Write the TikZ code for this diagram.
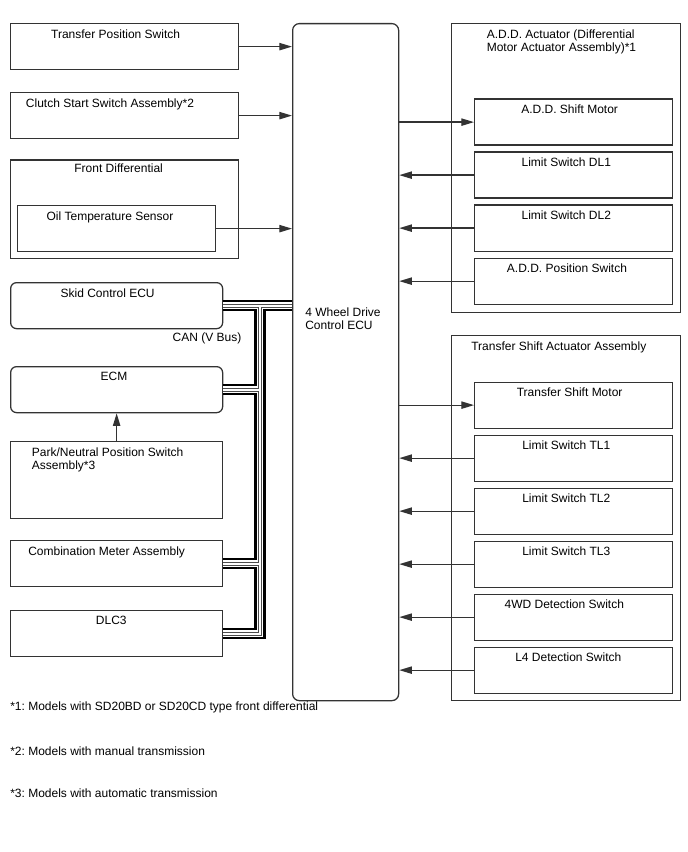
\documentclass[tikz,border=0pt]{standalone}
\usepackage{fontspec}
\setmainfont{Liberation Sans}
\frenchspacing
\usetikzlibrary{arrows.meta}

\begin{document}
\begin{tikzpicture}[
  x=0.75pt, y=-0.75pt, font=\fontsize{9}{9.75}\selectfont,
  >={Triangle[length=9.5pt,width=5.5pt]},
  b/.style={draw=black!80, line width=0.95pt, anchor=north west, inner sep=0pt,
            minimum width=159pt, minimum height=34.5pt},
  lw/.style={b, minimum width=171pt},
  rb/.style={b, minimum width=148.5pt},
  grp/.style={b, minimum width=171.75pt},
  rnd/.style={b, rounded corners=4.5pt},
  % title sits at the top of its box, not in the middle
  ttl/.style={anchor=north, inner sep=0pt, yshift=-4.6pt, align=center},
  ar/.style={->, line width=0.95pt, black!80},
  fn/.style={anchor=west, inner sep=0pt}]
\path[use as bounding box] (0,0) rectangle (688,852);

% ================= left: sensors and other ECUs =================
\node[lw, label={[ttl, xshift=-6.75pt]north:Transfer Position Switch}] (tps) at (10,23) {};
\node[lw, label={[ttl, xshift=-11pt]north:Clutch Start Switch Assembly*2}] (css) at (10,92) {};
\node[lw, minimum height=74pt,
      label={[ttl, xshift=-4.5pt, yshift=1.5pt]north:Front Differential}] (fd) at (10,159.5) {};
\node[b, minimum width=148.5pt,
      label={[ttl, xshift=-5pt]north:Oil Temperature Sensor}] (ots) at (17,205) {};

\node[rnd, label={[ttl, xshift=-6.75pt]north:Skid Control ECU}] (skid) at (10,282) {};
\node[anchor=center, inner sep=0pt] (can) at (207,338) {CAN (V Bus)};
\node[rnd, label={[ttl, xshift=-2pt]north:ECM}] (ecm) at (10,366) {};
\node[b, minimum height=57.75pt,
      label={[ttl, align=left, xshift=-6.75pt]north:{Park/Neutral Position Switch\\Assembly*3}}] (pnp) at (10,441) {};
\node[b, label={[ttl, xshift=-7.5pt]north:Combination Meter Assembly}] (meter) at (10,540) {};
\node[b, label={[ttl, xshift=-4pt]north:DLC3}] (dlc) at (10,610) {};

% ================= centre: 4WD ECU =================
\node[b, rounded corners=5pt, minimum width=79.5pt, minimum height=507.75pt] (ecu) at (292,23) {};
\node[anchor=west, align=left, inner sep=0pt] (ecut) at (305,318.5) {4 Wheel Drive\\Control ECU};

% ================= right: actuators =================
\node[grp, minimum height=216.75pt,
      label={[ttl, align=left, xshift=-3.5pt]north:{A.D.D. Actuator (Differential\\Motor Actuator Assembly)*1}}] (add) at (451,23) {};
\node[rb, label={[ttl, xshift=-3pt]north:A.D.D. Shift Motor}] (addm) at (474,98.5) {};
\node[rb, label={[ttl, xshift=-5.5pt]north:Limit Switch DL1}] (dl1) at (474,151.5) {};
\node[rb, label={[ttl, xshift=-5.5pt]north:Limit Switch DL2}] (dl2) at (474,204.5) {};
\node[rb, label={[ttl, xshift=-5pt]north:A.D.D. Position Switch}] (addp) at (474,257.5) {};

\node[grp, minimum height=273.75pt,
      label={[ttl, xshift=-5.5pt]north:Transfer Shift Actuator Assembly}] (tsa) at (451,335) {};
\node[rb, label={[ttl, xshift=-3pt]north:Transfer Shift Motor}] (tsm) at (474,381.5) {};
\node[rb, label={[ttl, xshift=-5.5pt]north:Limit Switch TL1}] (tl1) at (474,434.5) {};
\node[rb, label={[ttl, xshift=-5.5pt]north:Limit Switch TL2}] (tl2) at (474,487.5) {};
\node[rb, label={[ttl, xshift=-5.5pt]north:Limit Switch TL3}] (tl3) at (474,540.5) {};
\node[rb, label={[ttl, xshift=-7pt]north:4WD Detection Switch}] (det) at (474,593.5) {};
\node[rb, label={[ttl, xshift=-4pt]north:L4 Detection Switch}] (l4) at (474,646.5) {};

% ================= signal lines =================
\draw[ar] (tps.east) -- (tps.east -| ecu.west);
\draw[ar] (css.east) -- (css.east -| ecu.west);
\draw[ar] (ots.east) -- (ots.east -| ecu.west);
\draw[ar] (pnp.north) -- (ecm.south);

\draw[ar] (addm.west -| ecu.east) -- (addm.west);
\draw[ar] (dl1.west) -- (dl1.west -| ecu.east);
\draw[ar] (dl2.west) -- (dl2.west -| ecu.east);
\draw[ar] (addp.west) -- (addp.west -| ecu.east);
\draw[ar] (tsm.west -| ecu.east) -- (tsm.west);
\draw[ar] (tl1.west) -- (tl1.west -| ecu.east);
\draw[ar] (tl2.west) -- (tl2.west -| ecu.east);
\draw[ar] (tl3.west) -- (tl3.west -| ecu.east);
\draw[ar] (det.west) -- (det.west -| ecu.east);
\draw[ar] (l4.west) -- (l4.west -| ecu.east);

% CAN bus: layered strokes give the twin-wire look and clean T joints
\coordinate (trunk) at (260,305);
\foreach \lw/\col in {8.6pt/black, 5pt/white, 3pt/black!70, 1.5pt/white}
  \draw[line width=\lw, draw=\col] (skid.east) -- (skid.east -| ecu.west)
    (ecm.east) -- (ecm.east -| trunk) (meter.east) -- (meter.east -| trunk)
    (trunk) |- (dlc.east);

% ================= notes =================
\node[fn] (n1) at (10,707) {*1: Models with SD20BD or SD20CD type front differential};
\node[fn] (n2) at (10,751) {*2: Models with manual transmission};
\node[fn] (n3) at (10,793) {*3: Models with automatic transmission};
\end{tikzpicture}
\end{document}
